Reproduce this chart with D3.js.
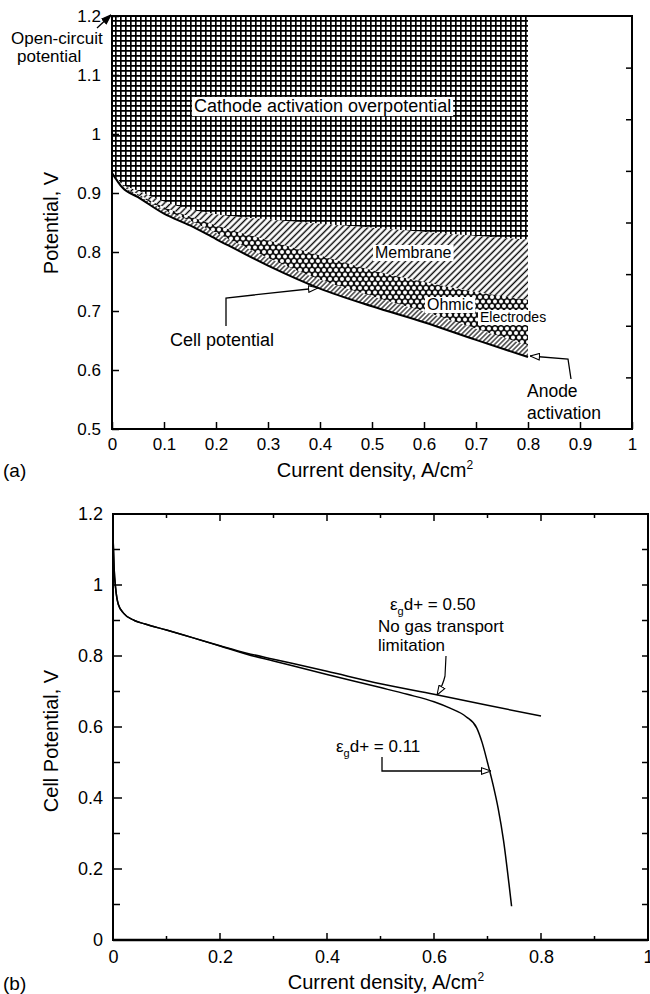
<!DOCTYPE html>
<html>
<head>
<meta charset="utf-8">
<script src="https://cdn.jsdelivr.net/npm/d3@7"></script>
<style>
body { margin: 0; background: #fff; }
svg { display: block; font-family: "Liberation Sans", Arial, Helvetica, sans-serif; }
</style>
</head>
<body>
<svg id="fig" width="650" height="994"></svg>
<script>
// ---- (a) breakdown of the losses, V vs A/cm2
const currentA      = [0, 0.02, 0.05, 0.1, 0.15, 0.2, 0.3, 0.4, 0.5, 0.6, 0.7, 0.8]
const openCircuit   = 1.2
const cathodeEdge   = [0.934, 0.915, 0.904, 0.885, 0.872, 0.864, 0.855, 0.848, 0.841, 0.834, 0.827, 0.821]
const membraneEdge  = [0.934, 0.912, 0.898, 0.876, 0.86, 0.845, 0.82, 0.794, 0.769, 0.749, 0.732, 0.719]
const anodeEdge     = [0.934, 0.911, 0.896, 0.871, 0.853, 0.832, 0.79, 0.753, 0.725, 0.699, 0.67, 0.642]
const cellPotential = [0.934, 0.909, 0.893, 0.865, 0.845, 0.822, 0.777, 0.738, 0.708, 0.681, 0.651, 0.622]
const xTicksA = [0, 0.1, 0.2, 0.3, 0.4, 0.5, 0.6, 0.7, 0.8, 0.9, 1]
const yTicksA = [0.5, 0.6, 0.7, 0.8, 0.9, 1, 1.1, 1.2]
const rightTicksA = [1.1125, 1.025, 0.9375, 0.85, 0.7625, 0.675, 0.5875]

// ---- (b) two gas-porosity cases
const currentB50   = [0, 0.002, 0.005, 0.01, 0.02, 0.04, 0.06, 0.1, 0.15, 0.2, 0.25, 0.3, 0.4, 0.5, 0.6, 0.7, 0.8]
const potentialB50 = [1.14, 1.05, 0.99, 0.945, 0.92, 0.9, 0.89, 0.873, 0.851, 0.829, 0.808, 0.791, 0.757, 0.722, 0.692, 0.661, 0.631]
const currentB11   = [0, 0.002, 0.005, 0.01, 0.02, 0.04, 0.06, 0.1, 0.15, 0.2, 0.25, 0.3, 0.4, 0.5, 0.55, 0.6, 0.63, 0.66, 0.68, 0.69, 0.7, 0.71, 0.72, 0.73, 0.74, 0.745]
const potentialB11 = [1.14, 1.05, 0.99, 0.945, 0.92, 0.9, 0.89, 0.873, 0.851, 0.828, 0.805, 0.786, 0.748, 0.711, 0.692, 0.671, 0.653, 0.629, 0.597, 0.556, 0.5, 0.44, 0.37, 0.28, 0.16, 0.095]
const xTicksB = [0.1, 0.2, 0.3, 0.4, 0.5, 0.6, 0.7, 0.8, 0.9]
const xLabelsB = [0, 0.2, 0.4, 0.6, 0.8, 1]
const yTicksB = [0.1, 0.2, 0.3, 0.4, 0.5, 0.6, 0.7, 0.8, 0.9, 1, 1.1]
const yLabelsB = [0, 0.2, 0.4, 0.6, 0.8, 1, 1.2]

const svg = d3.select('#fig')
const defs = svg.append('defs')
const fmt = d => d3.format('~g')(d)

// fill patterns
const grid = defs.append('pattern').attr('id', 'grid').attr('patternUnits', 'userSpaceOnUse')
    .attr('width', 5).attr('height', 5)
grid.append('rect').attr('width', 5).attr('height', 5).attr('fill', '#fff')
grid.append('path').attr('d', 'M0,0.8H5M0.8,0V5').attr('stroke', '#000').attr('stroke-width', 1.7)

const hatch = (id, gap, w) => {
    const p = defs.append('pattern').attr('id', id).attr('patternUnits', 'userSpaceOnUse')
        .attr('width', gap).attr('height', gap).attr('patternTransform', 'rotate(45)')
    p.append('rect').attr('width', gap).attr('height', gap).attr('fill', '#fff')
    p.append('line').attr('x1', gap / 2).attr('x2', gap / 2).attr('y1', 0).attr('y2', gap)
        .attr('stroke', '#000').attr('stroke-width', w)
}
hatch('membrane', 4.6, 1.4)
hatch('anode', 3.4, 1.1)

const dots = defs.append('pattern').attr('id', 'dots').attr('patternUnits', 'userSpaceOnUse')
    .attr('width', 6).attr('height', 9)
dots.append('rect').attr('width', 6).attr('height', 9).attr('fill', '#111')
;[[0, 0], [6, 0], [3, 4.5], [0, 9], [6, 9]].forEach(([cx, cy]) => {
    dots.append('circle').attr('cx', cx).attr('cy', cy).attr('r', 2).attr('fill', '#fff')
})

// arrow heads
const marker = (id, fill) => defs.append('marker').attr('id', id)
    .attr('viewBox', '0 0 10 8').attr('refX', 10).attr('refY', 4)
    .attr('markerWidth', 10).attr('markerHeight', 8)
    .attr('markerUnits', 'userSpaceOnUse').attr('orient', 'auto')
    .append('path').attr('d', 'M0.5,0.7L10,4L0.5,7.3Z')
    .attr('fill', fill).attr('stroke', '#000').attr('stroke-width', 1.1)
marker('open', '#fff')
marker('solid', '#000')

const boxedLabel = (g, x, y, txt, size) => {
    const lg = g.append('g')
    const t = lg.append('text').attr('x', x).attr('y', y).attr('font-size', size).text(txt)
    const b = t.node().getBBox()
    lg.insert('rect', 'text').attr('x', b.x - 2).attr('y', b.y + 1).attr('width', b.width + 4)
        .attr('height', b.height - 1).attr('fill', '#fff')
}

// ================= (a) =================
const xA = d3.scaleLinear([0, 1], [112, 632])
const yA = d3.scaleLinear([0.5, 1.2], [429, 16])
const gA = svg.append('g')

const areaA = (lo, hi) => d3.area()
    .x((d, i) => xA(currentA[i]))
    .y0((d, i) => yA(lo[i]))
    .y1((d, i) => yA(hi[i]))
    .curve(d3.curveMonotoneX)(currentA)

gA.append('path').attr('d', areaA(cathodeEdge, currentA.map(() => openCircuit))).attr('fill', 'url(#grid)')
gA.append('path').attr('d', areaA(membraneEdge, cathodeEdge)).attr('fill', 'url(#membrane)')
gA.append('path').attr('d', areaA(anodeEdge, membraneEdge)).attr('fill', 'url(#dots)')
gA.append('path').attr('d', areaA(cellPotential, anodeEdge)).attr('fill', 'url(#anode)')

gA.append('path')
    .attr('d', d3.line().x((d, i) => xA(currentA[i])).y(d => yA(d)).curve(d3.curveMonotoneX)(cellPotential))
    .attr('fill', 'none').attr('stroke', '#000').attr('stroke-width', 2)

// axes (ticks point inward)
gA.append('g').attr('transform', `translate(0,${yA(0.5)})`)
    .call(d3.axisBottom(xA).tickValues(xTicksA).tickFormat(fmt).tickSizeInner(-7).tickSizeOuter(0).tickPadding(9))
gA.append('g').attr('transform', `translate(${xA(0)},0)`)
    .call(d3.axisLeft(yA).tickValues(yTicksA).tickFormat(fmt).tickSizeInner(-7).tickSizeOuter(0).tickPadding(11))
gA.append('g').attr('transform', `translate(${xA(1)},0)`)
    .call(d3.axisRight(yA).tickValues(rightTicksA).tickFormat('').tickSizeInner(-6).tickSizeOuter(0))
gA.selectAll('.domain').remove()
gA.selectAll('.tick line').attr('stroke-width', 1.5)
gA.selectAll('.tick text').attr('font-size', 17).attr('fill', '#000').attr('font-family', null)

gA.append('rect').attr('x', xA(0)).attr('y', yA(1.2)).attr('width', xA(1) - xA(0)).attr('height', yA(0.5) - yA(1.2))
    .attr('fill', 'none').attr('stroke', '#000').attr('stroke-width', 2)

boxedLabel(gA, 194, 112, 'Cathode activation overpotential', 18)
boxedLabel(gA, 375, 258, 'Membrane', 16)
boxedLabel(gA, 427, 310, 'Ohmic', 16)
boxedLabel(gA, 480, 322, 'Electrodes', 14)

gA.append('path').attr('d', 'M226,326L226,298L318,288')
    .attr('fill', 'none').attr('stroke', '#000').attr('stroke-width', 1.3).attr('marker-end', 'url(#open)')
gA.append('text').attr('x', 170).attr('y', 346).attr('font-size', 18).text('Cell potential')

gA.append('path').attr('d', 'M571,379L568,359L530,356')
    .attr('fill', 'none').attr('stroke', '#000').attr('stroke-width', 1.3).attr('marker-end', 'url(#open)')
gA.append('text').attr('x', 527).attr('y', 397).attr('font-size', 17.5).text('Anode')
gA.append('text').attr('x', 527).attr('y', 419).attr('font-size', 17.5).text('activation')

gA.append('path').attr('d', 'M97,28L111,15')
    .attr('fill', 'none').attr('stroke', '#000').attr('stroke-width', 1.3).attr('marker-end', 'url(#solid)')
gA.append('text').attr('x', 11).attr('y', 44).attr('font-size', 17).text('Open-circuit')
gA.append('text').attr('x', 17).attr('y', 62).attr('font-size', 17).text('potential')

gA.append('text').attr('x', 375).attr('y', 477).attr('text-anchor', 'middle').attr('font-size', 20)
    .text('Current density, A/cm').append('tspan').attr('font-size', 12).attr('dy', -8).text('2')
gA.append('text').attr('x', 3).attr('y', 477).attr('font-size', 19).text('(a)')
gA.append('text').attr('transform', `translate(58,223) rotate(-90)`).attr('text-anchor', 'middle')
    .attr('font-size', 20).text('Potential, V')

// ================= (b) =================
const xB = d3.scaleLinear([0, 1], [113, 648])
const yB = d3.scaleLinear([0, 1.2], [940, 514])
const gB = svg.append('g')

const lineB = (xs) => d3.line().x((d, i) => xB(xs[i])).y(d => yB(d)).curve(d3.curveMonotoneX)
gB.append('path').attr('d', lineB(currentB50)(potentialB50))
    .attr('fill', 'none').attr('stroke', '#000').attr('stroke-width', 1.5)
gB.append('path').attr('d', lineB(currentB11)(potentialB11))
    .attr('fill', 'none').attr('stroke', '#000').attr('stroke-width', 1.5)

const isMajor = d => Math.abs(d * 5 - Math.round(d * 5)) < 1e-6
// minor / major ticks, all inward
gB.append('g').attr('transform', `translate(0,${yB(0)})`)
    .call(d3.axisBottom(xB).tickValues(xLabelsB).tickFormat(fmt).tickSize(0).tickPadding(10))
gB.append('g').attr('transform', `translate(${xB(0)},0)`)
    .call(d3.axisLeft(yB).tickValues(yLabelsB).tickFormat(fmt).tickSize(0).tickPadding(10))
gB.selectAll('.domain').remove()
gB.selectAll('.tick text').attr('font-size', 18).attr('fill', '#000').attr('font-family', null)

const tk = gB.append('g').attr('stroke', '#000').attr('stroke-width', 1.5)
xTicksB.forEach(d => {
    const len = isMajor(d) ? 7 : 4
    tk.append('line').attr('x1', xB(d)).attr('x2', xB(d)).attr('y1', yB(0)).attr('y2', yB(0) - len)
    tk.append('line').attr('x1', xB(d)).attr('x2', xB(d)).attr('y1', yB(1.2)).attr('y2', yB(1.2) + len)
})
yTicksB.forEach(d => {
    tk.append('line').attr('x1', xB(0)).attr('x2', xB(0) + (isMajor(d) ? 9 : 7)).attr('y1', yB(d)).attr('y2', yB(d))
    tk.append('line').attr('x1', xB(1)).attr('x2', xB(1) - 6).attr('y1', yB(d)).attr('y2', yB(d))
})

gB.append('rect').attr('x', xB(0)).attr('y', yB(1.2)).attr('width', xB(1) - xB(0)).attr('height', yB(0) - yB(1.2))
    .attr('fill', 'none').attr('stroke', '#000').attr('stroke-width', 2)
gB.append('line').attr('x1', xB(0)).attr('x2', xB(1)).attr('y1', yB(0)).attr('y2', yB(0))
    .attr('stroke', '#000').attr('stroke-width', 2.6)

const epsLabel = (x, y, val) => {
    const t = gB.append('text').attr('x', x).attr('y', y).attr('font-size', 17)
    t.append('tspan').text('ε')
    t.append('tspan').attr('font-size', 11).attr('dy', 5).text('g')
    t.append('tspan').attr('dy', -5).text('d+ = ' + val)
}
epsLabel(390, 610, '0.50')
gB.append('text').attr('x', 378).attr('y', 632).attr('font-size', 17).text('No gas transport')
gB.append('text').attr('x', 378).attr('y', 651).attr('font-size', 17).text('limitation')
gB.append('path').attr('d', 'M446,656L445,676Q443,685 437,695')
    .attr('fill', 'none').attr('stroke', '#000').attr('stroke-width', 1.2).attr('marker-end', 'url(#open)')

epsLabel(336, 752, '0.11')
gB.append('path').attr('d', 'M382,757L382,771L491,771')
    .attr('fill', 'none').attr('stroke', '#000').attr('stroke-width', 1.3).attr('marker-end', 'url(#open)')

gB.append('text').attr('x', 386).attr('y', 989).attr('text-anchor', 'middle').attr('font-size', 20)
    .text('Current density, A/cm').append('tspan').attr('font-size', 12).attr('dy', -8).text('2')
gB.append('text').attr('x', 3).attr('y', 990).attr('font-size', 19).text('(b)')
gB.append('text').attr('transform', `translate(58,741) rotate(-90)`).attr('text-anchor', 'middle')
    .attr('font-size', 20).text('Cell Potential, V')
</script>
</body>
</html>
